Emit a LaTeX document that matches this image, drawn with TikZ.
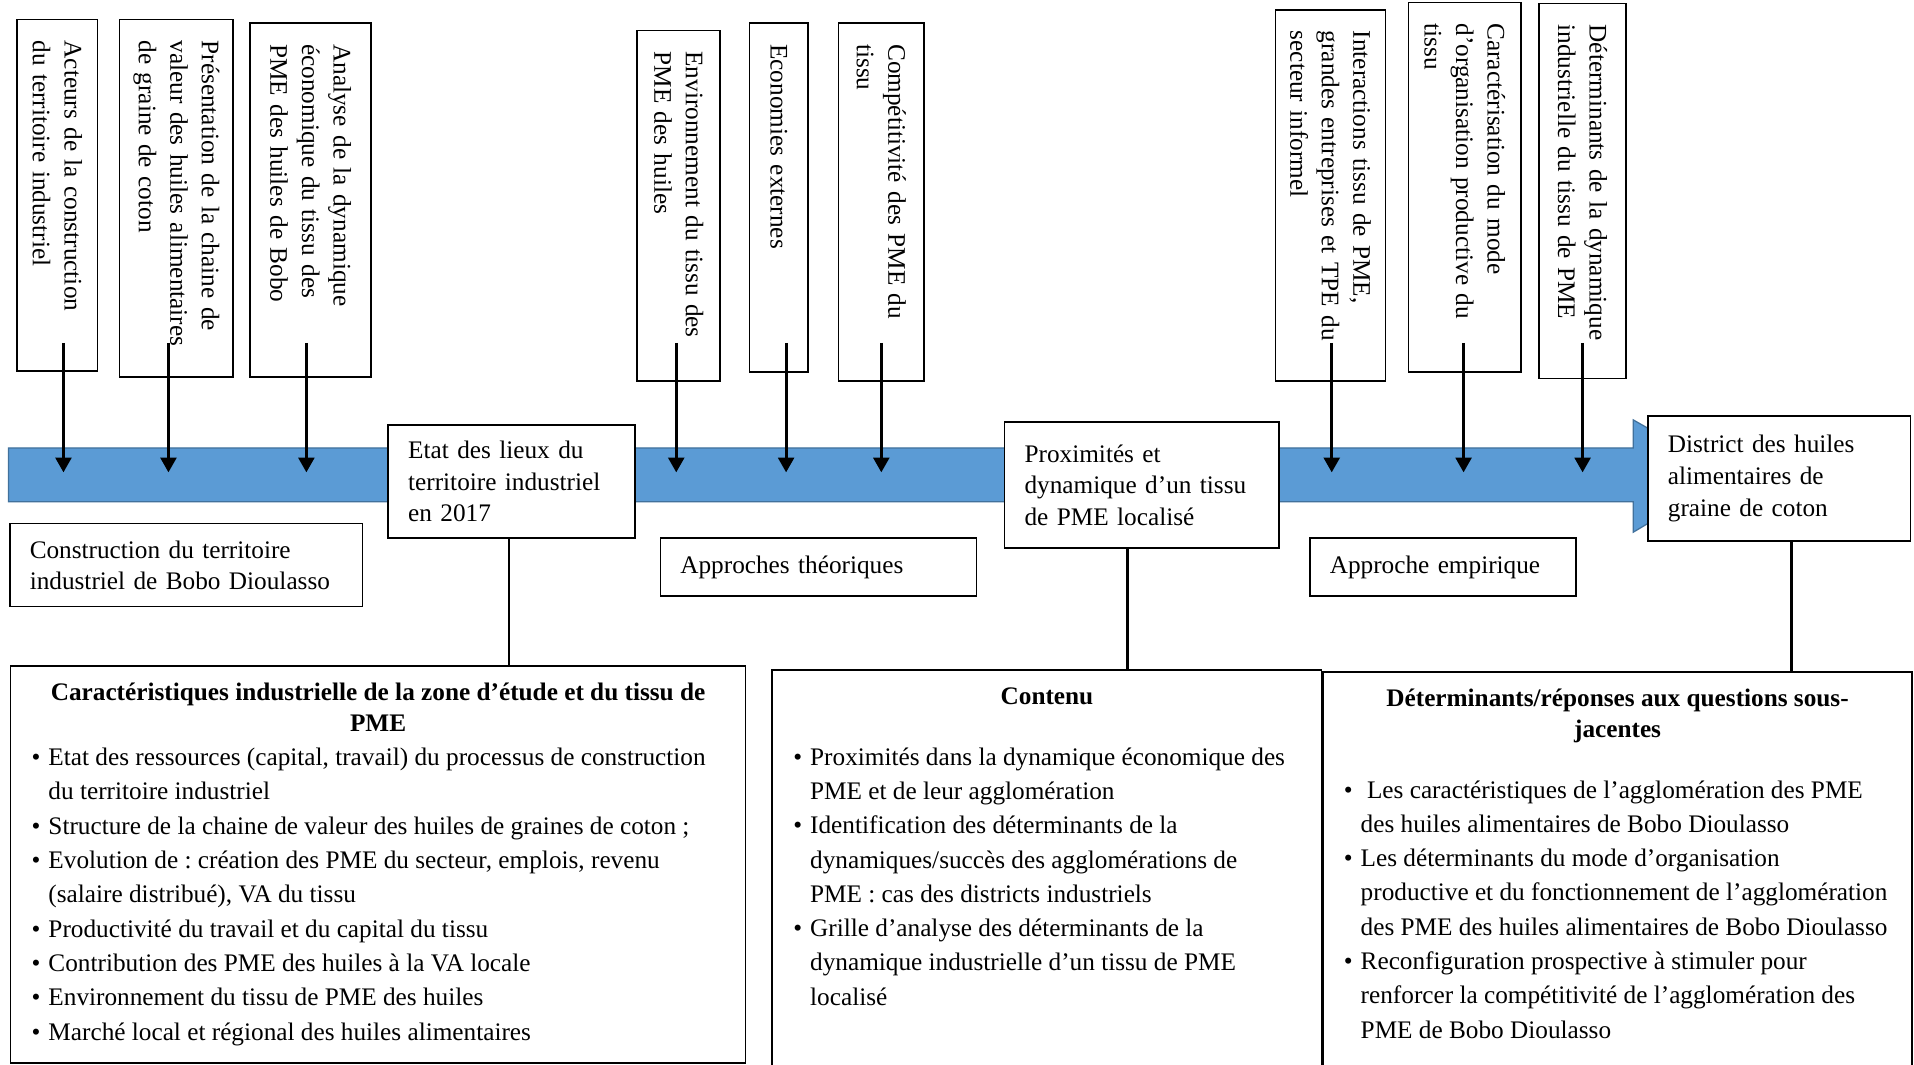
\documentclass[tikz,border=0pt]{standalone}
\usepackage{fontspec}
\setmainfont{Liberation Serif}
\usetikzlibrary{arrows.meta,calc}
\frenchspacing

\definecolor{bande}{HTML}{5B9BD5}
\definecolor{bandebord}{HTML}{41719C}

\newcommand{\puce}[1]{\par\hangindent=8pt\hangafter=1\noindent\makebox[8pt][l]{\textbullet}#1\par}
\newcommand{\cadre}{\parindent=0pt\rightskip=0pt plus 1fil\leftskip=10pt\relax}

\tikzset{
  topbox/.style 2 args={draw, line width=.8pt, rotate=-90, inner sep=0pt, align=left,
    text width=#2*0.58pt, minimum height=#1*0.58pt,
    font=\fontsize{12}{15}\selectfont, execute at begin node={\leftskip=10pt}},
  midbox/.style 2 args={draw, fill=white, line width=.8pt, inner sep=0pt, align=left,
    text width=#1*0.58pt, minimum height=#2*0.58pt,
    font=\fontsize{12}{15}\selectfont, execute at begin node={\leftskip=9.5pt}},
  bigbox/.style={draw, line width=.8pt, inner sep=0pt, anchor=north west,
    font=\fontsize{12}{14.5}\selectfont},
  fleche/.style={line width=1.4pt, -{Triangle[length=7pt,width=7.5pt]}},
  lien/.style={line width=1.4pt},
}

\begin{document}
\begin{tikzpicture}[x=0.58pt, y=0.58pt]
  \path[use as bounding box, fill=white] (0,0) rectangle (1568,872);
  \coordinate (depart) at (0,591);
  \coordinate (axe) at (0,485);

  \draw[fill=bande, draw=bandebord, line width=.6pt] (7,461) -- (1338,461) -- (1338,436)
    -- (1417,483) -- (1338,528) -- (1338,505) -- (7,505) -- cycle;

  \node[topbox={66}{288}] (b1) at (47,712) {Acteurs de la construction\\du territoire industriel};
  \node[topbox={93}{293}] (b2) at (144.5,709.5) {Présentation de la chaine de\\valeur des huiles alimentaires\\de graine de coton};
  \node[topbox={99}{290}] (b3) at (254.5,708) {Analyse de la dynamique\\économique du tissu des\\PME des huiles de Bobo};
  \node[topbox={68}{287}] (b4) at (556,703.5) {Environnement du tissu des\\PME des huiles};
  \node[topbox={48}{286}] (b5) at (638,710) {Economies externes};
  \node[topbox={70}{293}] (b6) at (722,706.5) {Compétitivité des PME du\\tissu};
  \node[topbox={90}{304}] (b7) at (1090,712) {Interactions tissu de PME,\\grandes entreprises et TPE du\\secteur informel};
  \node[topbox={92}{303}] (b8) at (1200,718.5) {Caractérisation du mode\\d’organisation productive du\\tissu};
  \node[topbox={71}{307}] (b9) at (1296.5,715.5) {Déterminants de la dynamique\\industrielle du tissu de PME};

  \node[midbox={289}{68}] (cons) at (152.5,409) {Construction du territoire\\industriel de Bobo Dioulasso};
  \node[midbox={202}{93}] (etat) at (419,477.5) {Etat des lieux du\\territoire industriel\\en 2017};
  \node[midbox={259}{47}] (theo) at (670.5,407.5) {Approches théoriques};
  \node[midbox={225}{103}] (prox) at (935.5,474.5) {Proximités et\\dynamique d’un tissu\\de PME localisé};
  \node[midbox={218}{47}] (empi) at (1182,407.5) {Approche empirique};
  \node[midbox={215}{102}] (dist) at (1457.5,480) {District des huiles\\alimentaires de\\graine de coton};

  \foreach \b/\dx in {b1/5,b2/-6.5,b3/-3.5,b4/-2,b5/6,b6/0,b7/1,b8/-1,b9/0}
    \draw[fleche] ($(\b.east |- depart)+(\dx,0)$) -- ($(\b.east |- axe)+(\dx,0)$);

  \node[bigbox] (carac) at (8,327) {\parbox[t][188.5pt][t]{349.2pt}{\cadre
    {\bfseries\centering\rule{0pt}{16.5pt}Caractéristiques industrielle de la zone d’étude et du tissu de\\PME\par}
    \fontsize{12}{16.3}\selectfont
    \puce{Etat des ressources (capital, travail) du processus de construction\\du territoire industriel}
    \puce{Structure de la chaine de valeur des huiles de graines de coton ;}
    \puce{Evolution de : création des PME du secteur, emplois, revenu\\(salaire distribué), VA du tissu}
    \puce{Productivité du travail et du capital du tissu}
    \puce{Contribution des PME des huiles à la VA locale}
    \puce{Environnement du tissu de PME des huiles}
    \puce{Marché local et régional des huiles alimentaires}}};

  \node[bigbox] (contenu) at (632,324) {\parbox[t][190.2pt][t]{261pt}{\cadre
    {\bfseries\centering\rule{0pt}{16.5pt}Contenu\par}
    \fontsize{12}{16.3}\selectfont\vspace{12.5pt}
    \puce{Proximités dans la dynamique économique des\\PME et de leur agglomération}
    \puce{Identification des déterminants de la\\dynamiques/succès des agglomérations de\\PME : cas des districts industriels}
    \puce{Grille d’analyse des déterminants de la\\dynamique industrielle d’un tissu de PME\\localisé}}};

  \node[bigbox] (reponses) at (1083,322) {\parbox[t][189.1pt][t]{280.1pt}{\cadre
    {\bfseries\centering\rule{0pt}{16.5pt}Déterminants/réponses aux questions sous-\\jacentes\par}
    \fontsize{12}{16.3}\selectfont\vspace{12.5pt}
    \puce{\ Les caractéristiques de l’agglomération des PME\\des huiles alimentaires de Bobo Dioulasso}
    \puce{Les déterminants du mode d’organisation\\productive et du fonctionnement de l’agglomération\\des PME des huiles alimentaires de Bobo Dioulasso}
    \puce{Reconfiguration prospective à stimuler pour\\renforcer la compétitivité de l’agglomération des\\PME de Bobo Dioulasso}}};

  \draw[lien] ($(etat.south)+(-2,0)$) -- ($(etat.south |- carac.north)+(-2,0)$);
  \draw[lien] ($(prox.south)+(-11.5,0)$) -- ($(prox.south |- contenu.north)+(-11.5,0)$);
  \draw[lien] ($(dist.south)+(10,0)$) -- ($(dist.south |- reponses.north)+(10,0)$);
\end{tikzpicture}
\end{document}
